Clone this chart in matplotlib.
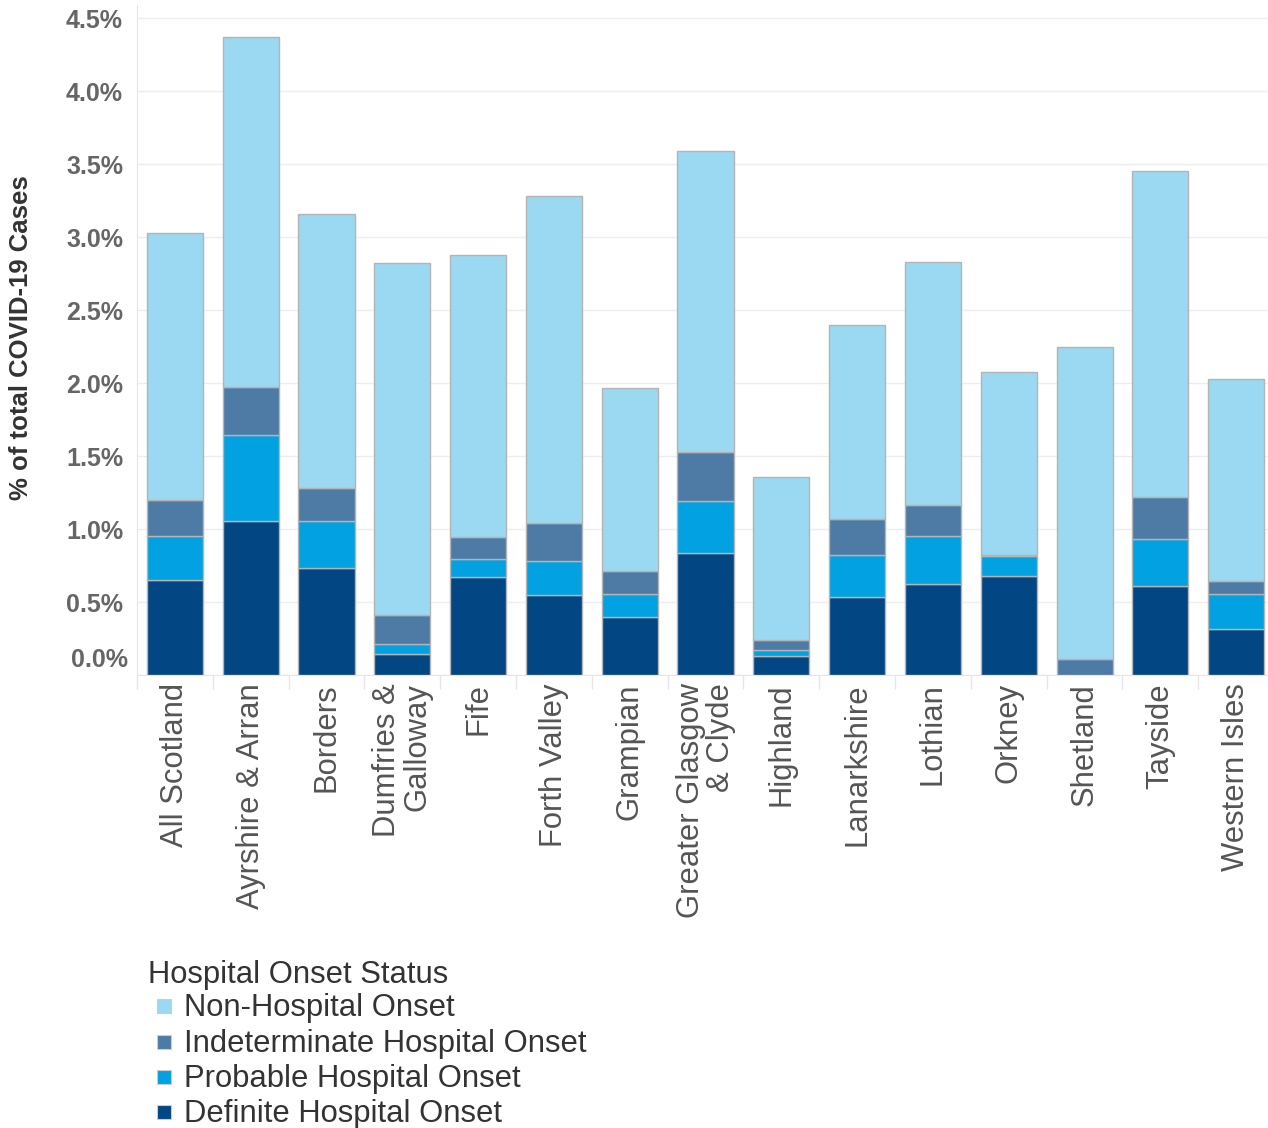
import matplotlib.pyplot as plt
import numpy as np
from matplotlib.patches import Rectangle

plt.rcParams['font.family'] = ['Liberation Sans', 'DejaVu Sans']

boards = ['All Scotland', 'Ayrshire & Arran', 'Borders', 'Dumfries &\nGalloway', 'Fife',
          'Forth Valley', 'Grampian', 'Greater Glasgow\n& Clyde', 'Highland', 'Lanarkshire',
          'Lothian', 'Orkney', 'Shetland', 'Tayside', 'Western Isles']

# cumulative tops (% of total cases)
definite_top = [0.653, 1.058, 0.736, 0.144, 0.672, 0.546, 0.399, 0.834, 0.132, 0.537,
                0.626, 0.681, 0.0, 0.607, 0.313]
probable_top = [0.950, 1.644, 1.058, 0.215, 0.798, 0.779, 0.552, 1.193, 0.169, 0.822,
                0.951, 0.813, 0.0, 0.929, 0.552]
indeterminate_top = [1.200, 1.970, 1.280, 0.408, 0.942, 1.043, 0.715, 1.525, 0.239, 1.067,
                     1.163, 0.819, 0.113, 1.221, 0.644]
total = [3.03, 4.37, 3.16, 2.82, 2.874, 3.28, 1.966, 3.592, 1.356, 2.396,
         2.828, 2.077, 2.245, 3.451, 2.028]

definite = np.array(definite_top)
probable = np.array(probable_top) - np.array(definite_top)
indeterminate = np.array(indeterminate_top) - np.array(probable_top)
non_hospital = np.array(total) - np.array(indeterminate_top)

series = ['Definite Hospital Onset', 'Probable Hospital Onset',
          'Indeterminate Hospital Onset', 'Non-Hospital Onset']
colours = ['#024683', '#02a1e2', '#4e7ba6', '#9bd9f2']

fig = plt.figure(figsize=(12.68, 11.28), dpi=100)
ax = fig.add_axes([137 / 1268, 1 - 675 / 1128, 1131 / 1268, 670 / 1128])

x = np.arange(len(boards))
bottom = np.zeros(len(boards))
for vals, col in zip([definite, probable, indeterminate, non_hospital], colours):
    ax.bar(x, vals, bottom=bottom, width=0.74, color=col, edgecolor='#b4b4b4',
           linewidth=1, zorder=3)
    bottom += vals

ax.set_xlim(-0.488, 14.42)
ax.set_ylim(0, 4.59)

yt = np.arange(0, 4.6, 0.5)
ax.set_yticks(yt)
ax.set_yticklabels(['' if v == 0 else f'{v:.1f}%' for v in yt],
                   fontsize=18, fontweight='bold', color='#666666')
ax.text(-0.62, 0.1, '0.0%', ha='right', va='center', fontsize=18,
        fontweight='bold', color='#666666')
ax.tick_params(axis='y', length=0, pad=10)
ax.yaxis.grid(True, color='#eeeeee', linewidth=1, zorder=0)

ax.set_xticks(x)
ax.set_xticklabels(boards, rotation=90, fontsize=22.3, color='#555555',
                   va='top', ha='center', multialignment='right', linespacing=1.0)
ax.set_xticks(np.arange(-0.5, 14.5, 1), minor=True)
ax.tick_params(axis='x', which='major', length=0, pad=6)
ax.tick_params(axis='x', which='minor', length=10, color='#e6e6e6', width=1)

for s in ['top', 'right']:
    ax.spines[s].set_visible(False)
ax.spines['left'].set_color('#e6e6e6')
ax.spines['bottom'].set_color('#e6e6e6')

fig.text(21 / 1268, 1 - 338 / 1128, '% of total COVID-19 Cases', rotation=90,
         ha='center', va='center', fontsize=18.5, fontweight='bold', color='#333333')

# legend
fig.text(148 / 1268, 1 - 975 / 1128, 'Hospital Onset Status', ha='left', va='center',
         fontsize=22.3, color='#333333')
leg_y = [1008, 1044, 1079, 1114]
for yy, lab, col in zip(leg_y, series[::-1], colours[::-1]):
    fig.patches.append(Rectangle((157 / 1268, 1 - (yy + 5) / 1128), 14 / 1268, 14 / 1128,
                                 transform=fig.transFigure, facecolor=col,
                                 edgecolor='#cccccc', linewidth=0.8))
    fig.text(184 / 1268, 1 - yy / 1128, lab, ha='left', va='center',
             fontsize=22.3, color='#333333')

fig.savefig('out.png', dpi=100)
